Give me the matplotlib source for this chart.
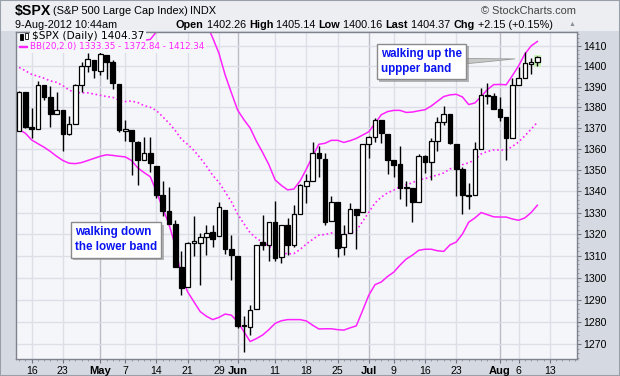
import matplotlib
matplotlib.use("Agg")
import matplotlib.pyplot as plt
import matplotlib.patheffects as pe
from matplotlib.patches import Rectangle
from matplotlib.ticker import FixedLocator, MultipleLocator, NullFormatter

# daily candles, 12-Apr-2012 .. 9-Aug-2012 (trading days only)
opens = [1368.77, 1387.61, 1370.27, 1369.57, 1390.78, 1385.08, 1376.96, 1378.53, 1366.97, 1372.11,
         1390.64, 1400.19, 1403.26, 1397.86, 1405.50, 1402.32, 1391.51, 1368.79, 1369.16, 1363.20,
         1354.58, 1358.11, 1351.93, 1338.36, 1330.78, 1324.82, 1305.05, 1295.73, 1316.09, 1316.02,
         1318.72, 1320.81, 1318.90, 1331.25, 1313.09, 1309.87, 1278.29, 1277.82, 1285.61, 1316.15,
         1314.99, 1325.72, 1309.40, 1324.02, 1314.88, 1329.19, 1342.42, 1344.83, 1358.04, 1355.43,
         1325.92, 1334.90, 1314.09, 1320.71, 1331.52, 1330.12, 1362.33, 1365.75, 1373.72, 1367.09,
         1354.66, 1352.96, 1341.40, 1341.29, 1334.81, 1356.50, 1353.68, 1363.58, 1373.01, 1376.51,
         1362.34, 1350.52, 1338.35, 1338.17, 1360.05, 1385.94, 1385.27, 1379.32, 1375.13, 1365.45,
         1391.04, 1394.46, 1401.23, 1402.26]
highs = [1388.13, 1387.61, 1379.66, 1392.76, 1390.78, 1390.46, 1387.40, 1378.53, 1375.57, 1391.37,
         1402.09, 1406.64, 1403.26, 1415.32, 1405.50, 1403.07, 1391.51, 1373.91, 1369.16, 1363.73,
         1365.88, 1365.66, 1351.93, 1344.94, 1341.78, 1326.36, 1312.24, 1316.39, 1328.49, 1320.71,
         1324.14, 1324.20, 1334.93, 1331.25, 1319.74, 1309.87, 1282.55, 1287.62, 1315.13, 1329.05,
         1325.81, 1335.52, 1324.31, 1327.28, 1333.68, 1343.32, 1348.22, 1363.46, 1361.57, 1358.27,
         1337.82, 1334.90, 1324.24, 1334.40, 1331.52, 1362.17, 1366.35, 1374.81, 1373.85, 1367.09,
         1354.87, 1361.54, 1345.00, 1341.29, 1357.70, 1357.26, 1365.36, 1375.26, 1380.39, 1376.51,
         1362.34, 1351.53, 1343.98, 1363.13, 1389.19, 1391.74, 1387.16, 1385.03, 1375.13, 1394.16,
         1399.63, 1407.14, 1404.14, 1405.14]
lows = [1368.77, 1369.85, 1365.38, 1369.57, 1383.29, 1370.30, 1376.96, 1358.79, 1366.82, 1372.11,
        1387.28, 1397.31, 1394.00, 1395.73, 1393.92, 1388.71, 1367.96, 1363.94, 1347.75, 1343.13,
        1354.58, 1348.89, 1336.61, 1328.41, 1324.79, 1304.86, 1291.98, 1295.73, 1310.04, 1296.53,
        1310.50, 1314.23, 1318.90, 1310.76, 1298.90, 1277.25, 1266.74, 1274.16, 1285.61, 1312.68,
        1307.77, 1307.73, 1306.62, 1310.51, 1314.14, 1329.19, 1334.46, 1344.83, 1346.45, 1324.41,
        1325.92, 1309.27, 1310.30, 1320.71, 1313.29, 1330.12, 1355.70, 1363.53, 1363.02, 1348.03,
        1346.65, 1336.27, 1333.25, 1325.41, 1334.81, 1348.51, 1345.07, 1358.96, 1371.21, 1362.19,
        1337.56, 1329.24, 1331.50, 1338.17, 1360.05, 1381.37, 1379.17, 1373.35, 1354.65, 1365.45,
        1391.04, 1394.46, 1396.13, 1400.16]
closes = [1387.57, 1370.26, 1369.57, 1390.78, 1385.14, 1376.92, 1378.53, 1366.94, 1371.97, 1390.69,
          1399.98, 1403.36, 1397.91, 1405.82, 1402.31, 1391.57, 1369.10, 1369.58, 1363.72, 1354.58,
          1357.99, 1353.39, 1338.35, 1330.66, 1324.80, 1304.86, 1295.22, 1315.99, 1316.63, 1318.86,
          1320.68, 1317.82, 1332.42, 1313.32, 1310.33, 1278.04, 1278.18, 1285.50, 1315.13, 1314.99,
          1325.66, 1308.93, 1324.18, 1314.88, 1329.10, 1342.84, 1344.78, 1357.98, 1355.69, 1325.51,
          1335.02, 1313.72, 1319.99, 1331.85, 1329.04, 1362.16, 1365.51, 1374.02, 1367.58, 1354.68,
          1352.46, 1341.47, 1341.45, 1334.76, 1356.78, 1353.64, 1363.67, 1372.78, 1376.51, 1362.66,
          1350.52, 1338.31, 1337.89, 1360.02, 1385.97, 1385.30, 1379.32, 1375.14, 1365.00, 1390.99,
          1394.23, 1401.35, 1402.22, 1404.37]

# Bollinger bands (20, 2.0)
bb_mid = [1399.4, 1397.8, 1396.0, 1395.1, 1394.1, 1392.8, 1392.1, 1390.5, 1388.3, 1387.2,
          1387.0, 1387.0, 1386.4, 1385.8, 1385.2, 1384.8, 1383.4, 1382.8, 1383.0, 1382.3,
          1380.8, 1380.0, 1378.4, 1375.4, 1372.4, 1368.8, 1364.6, 1362.1, 1359.3, 1355.7,
          1351.8, 1347.5, 1344.2, 1339.6, 1335.0, 1329.3, 1324.8, 1320.6, 1318.1, 1316.2,
          1314.5, 1312.3, 1311.6, 1310.8, 1311.0, 1312.9, 1315.4, 1317.5, 1319.5, 1319.8,
          1320.5, 1320.3, 1319.7, 1320.6, 1321.6, 1325.8, 1330.1, 1334.5, 1337.2, 1339.2,
          1340.5, 1342.1, 1343.0, 1344.0, 1345.4, 1345.9, 1346.8, 1347.6, 1348.6, 1350.5,
          1351.3, 1352.5, 1353.4, 1354.8, 1357.6, 1358.8, 1359.5, 1359.5, 1359.4, 1361.2,
          1363.3, 1366.3, 1369.4, 1372.8]
bb_lower = [1369.2, 1367.5, 1364.3, 1362.5, 1360.8, 1358.8, 1356.5, 1354.5, 1353.2, 1353.0,
            1353.5, 1354.5, 1355.5, 1356.5, 1357.2, 1356.9, 1356.5, 1356.2, 1354.5, 1351.0,
            1348.8, 1346.8, 1339.8, 1332.0, 1324.5, 1314.7, 1300.0, 1293.5, 1289.0, 1284.6,
            1282.5, 1281.0, 1282.0, 1283.5, 1283.0, 1280.0, 1275.6, 1271.2, 1272.5, 1274.1,
            1276.5, 1279.3, 1280.5, 1281.0, 1281.0, 1281.0, 1280.4, 1278.5, 1276.8, 1276.9,
            1276.9, 1276.5, 1276.3, 1277.3, 1278.2, 1285.0, 1292.0, 1296.8, 1298.0, 1300.5,
            1302.5, 1305.7, 1308.5, 1310.3, 1312.5, 1313.0, 1313.0, 1312.3, 1312.0, 1315.0,
            1316.3, 1320.0, 1325.5, 1327.5, 1330.0, 1329.0, 1328.0, 1327.9, 1327.9, 1327.0,
            1326.4, 1327.5, 1330.0, 1333.4]
bb_upper = [1429.6, 1428.1, 1427.7, 1427.7, 1427.4, 1426.8, 1427.7, 1426.5, 1423.4, 1421.4,
            1420.5, 1419.5, 1417.3, 1415.1, 1413.2, 1412.7, 1410.3, 1409.4, 1411.5, 1413.6,
            1412.8, 1413.2, 1417.0, 1418.8, 1420.3, 1422.9, 1429.2, 1430.7, 1429.6, 1426.8,
            1421.1, 1414.0, 1406.4, 1395.7, 1387.0, 1378.6, 1374.0, 1370.0, 1363.7, 1358.3,
            1352.5, 1345.3, 1342.7, 1340.6, 1341.0, 1344.8, 1350.4, 1356.5, 1362.2, 1362.7,
            1364.1, 1364.1, 1363.1, 1363.9, 1365.0, 1366.6, 1368.2, 1372.2, 1376.4, 1377.9,
            1378.5, 1378.5, 1377.5, 1377.7, 1378.3, 1378.8, 1380.6, 1382.9, 1385.2, 1386.0,
            1386.3, 1385.0, 1381.3, 1382.1, 1385.2, 1388.6, 1391.0, 1391.1, 1390.9, 1395.4,
            1400.2, 1406.0, 1410.0, 1412.2]

tick_pos = [2, 7, 13, 17, 22, 27, 32, 35, 41, 46, 51, 56, 60, 65, 70, 77, 80, 85]
tick_labels = ["16", "23", "May", "7", "14", "21", "29", "Jun", "11", "18", "25",
               "Jul", "9", "16", "23", "Aug", "6", "13"]
month_labels = ["May", "Jun", "Jul", "Aug"]
y_ticks = list(range(1270, 1411, 10))

W, H = 620, 376
MAG = "#ff22ff"
FONT = "Liberation Sans"
plt.rcParams["font.family"] = [FONT, "DejaVu Sans"]

fig = plt.figure(figsize=(W / 100, H / 100), dpi=100)
fig.patch.set_facecolor("#d5dae2")
fig.add_artist(Rectangle((0, 1 - 31 / H), 1, 31 / H, transform=fig.transFigure,
                         facecolor="#eceef2", edgecolor="none", zorder=0))
fig.add_artist(Rectangle((0, 0), 1, 1, transform=fig.transFigure, fill=False,
                         edgecolor="#9aa0aa", lw=1.5, zorder=0))

L, T, R, B = 16, 32, 576.7, 359.3
ax = fig.add_axes([L / W, 1 - B / H, (R - L) / W, (B - T) / H])
ax.set_facecolor("#f5f6fa")
ax.set_yscale("log")
ax.set_xlim(-0.5, 89.3)
ax.set_ylim(1263.3, 1416.9)

x = list(range(len(closes)))

# grid
for p, lab in zip(tick_pos, tick_labels):
    ax.axvline(p, color="#b9bdc6" if lab in month_labels else "#dcdfe6", lw=1, zorder=0)
for v in y_ticks:
    ax.axhline(v, color="#dcdfe6", lw=1, zorder=0)

# bands
ax.plot(x, bb_upper, color=MAG, lw=1.1, zorder=2)
ax.plot(x, bb_lower, color=MAG, lw=1.1, zorder=2)
ax.plot(x, bb_mid, color=MAG, lw=1.2, ls=(0, (1, 1.6)), zorder=2)

# highlight of the last bar
ax.bar(x[-1], highs[-1] - lows[-1] + 0.9, bottom=lows[-1] - 0.4, width=1.2,
       color="#c9f2b8", zorder=1)

# candles
ax.vlines(x, lows, highs, color="black", lw=1, zorder=3)
body_lo = [min(o, c) for o, c in zip(opens, closes)]
body_h = [max(abs(c - o), 0.35) for o, c in zip(opens, closes)]
faces = ["white" if c >= o else "black" for o, c in zip(opens, closes)]
ax.bar(x, body_h, bottom=body_lo, width=0.74, color=faces, edgecolor="black",
       lw=0.9, zorder=4)

# axes styling
ax.yaxis.tick_right()
ax.yaxis.set_major_locator(FixedLocator(y_ticks))
ax.yaxis.set_major_formatter(plt.FuncFormatter(lambda v, _: f"{v:.0f}"))
ax.yaxis.set_minor_locator(FixedLocator(list(range(1264, 1417, 2))))
ax.yaxis.set_minor_formatter(NullFormatter())
ax.xaxis.set_major_locator(FixedLocator(tick_pos))
ax.set_xticklabels(tick_labels)
ax.xaxis.set_minor_locator(MultipleLocator(1))
ax.tick_params(axis="both", which="major", length=3, width=0.8, color="#70757f",
               labelsize=7.6, pad=2)
ax.tick_params(axis="both", which="minor", length=1.6, width=0.6, color="#8a8f99")
for lab in ax.get_xticklabels():
    if lab.get_text() in month_labels:
        lab.set_fontweight("bold")
        lab.set_fontsize(8)
for s in ax.spines.values():
    s.set_color("#7d828c")
    s.set_linewidth(1)


def axfrac(px, py):
    return (px - L) / (R - L), 1 - (py - T) / (B - T)


# in-chart legend lines
bg = dict(facecolor="#f5f6fa", edgecolor="none", pad=1.2)
ax.text(*axfrac(31.5, 36.3), "$SPX (Daily) 1404.37", transform=ax.transAxes,
        fontsize=7.6, family="DejaVu Sans", va="center", ha="left", bbox=bg, zorder=6)
ax.text(*axfrac(29.5, 46.7), "BB(20,2.0) 1333.35 - 1372.84 - 1412.34", transform=ax.transAxes,
        fontsize=6.3, family="DejaVu Sans", color=MAG, va="center", ha="left", bbox=bg, zorder=6)
ax.add_patch(Rectangle(axfrac(18.5, 47.3), 8 / (R - L), 1.6 / (B - T),
                       transform=ax.transAxes, color=MAG, zorder=7))
# small candle icon
ax.add_patch(Rectangle(axfrac(19.5, 39.5), 3 / (R - L), 6 / (B - T), transform=ax.transAxes,
                       facecolor="black", edgecolor="black", lw=0.6, zorder=7))
ax.add_patch(Rectangle(axfrac(24.5, 38.5), 3 / (R - L), 5 / (B - T), transform=ax.transAxes,
                       facecolor="white", edgecolor="black", lw=0.6, zorder=7))

# annotations
box = dict(boxstyle="square,pad=0.35", facecolor="white", edgecolor="#8a8a8a", lw=1)
shadow = [pe.withSimplePatchShadow(offset=(2, -2), shadow_rgbFace="#888888", alpha=0.6)]
a1 = ax.annotate("walking up the\nuppper band", xy=(79.4, 1403.6), xytext=(57.9, 1402.4),
                 fontsize=8.4, fontweight="bold", color="#0a14f0", ha="left", va="center",
                 linespacing=1.35, bbox=box, zorder=8,
                 arrowprops=dict(arrowstyle="wedge,tail_width=0.45,shrink_factor=0.5",
                                 facecolor="#c8c8c8", edgecolor="#9a9a9a", lw=0.6,
                                 relpos=(1.0, 0.5), shrinkA=0, shrinkB=0))
a1.get_bbox_patch().set_path_effects(shadow)
a2 = ax.text(8.9, 1317.3, "walking down\nthe lower band", fontsize=8.4, fontweight="bold",
             color="#0a14f0", ha="left", va="center", linespacing=1.35, bbox=box, zorder=8)
a2.get_bbox_patch().set_path_effects(shadow)


# header
def fpx(px, py):
    return px / W, 1 - py / H


renderer = fig.canvas.get_renderer()


def run(px, py, parts, size, color="black"):
    for s, w in parts:
        t = fig.text(*fpx(px, py), s, fontsize=size, fontweight=w, color=color,
                     ha="left", va="center")
        px += t.get_window_extent(renderer).width
    return px


run(15, 11, [("$SPX", "bold")], 10.2)
run(53, 11.5, [("(S&P 500 Large Cap Index)", "normal")], 7.9)
run(190, 11.5, [("INDX", "normal")], 7.9)
fig.text(*fpx(576, 11.5), "\u00a9 StockCharts.com", fontsize=7.9, color="#444444",
         ha="right", va="center")
run(15, 24.5, [("9-Aug-2012 10:44am", "normal")], 7.8)
run(176, 24.5, [("Open", "bold"), (" 1402.26 ", "normal"), ("High", "bold"),
                (" 1405.14 ", "normal"), ("Low", "bold"), (" 1400.16 ", "normal"),
                ("Last", "bold"), (" 1404.37 ", "normal"), ("Chg", "bold"),
                (" +2.15 (+0.15%)", "normal")], 7.8)
fig.text(*fpx(572, 24.5), "\u25b2", fontsize=5, color="#8a8f99", ha="center", va="center")

fig.savefig("out.png", dpi=100, facecolor=fig.get_facecolor())
